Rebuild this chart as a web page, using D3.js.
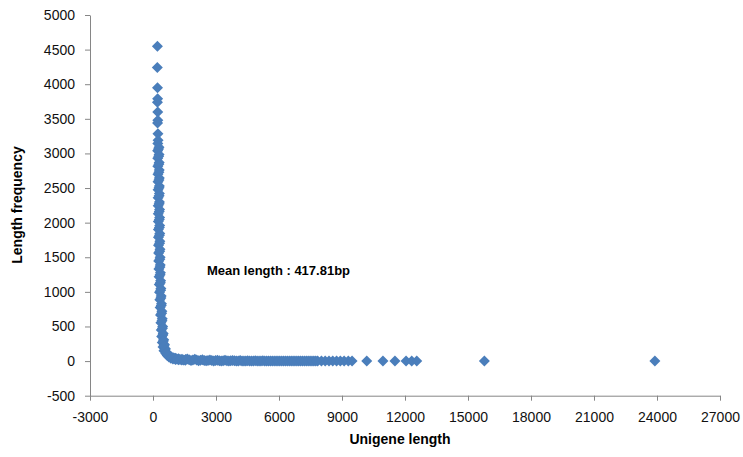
<!DOCTYPE html>
<html>
<head>
<meta charset="utf-8">
<script src="https://cdn.jsdelivr.net/npm/d3@7"></script>
<style>
  body { margin: 0; background: #fff; }
  text { font-family: "Liberation Sans", Arial, sans-serif; }
</style>
</head>
<body>
<svg></svg>
<script>
const width = 743;
const height = 457;

// unigene length (bp) and how many unigenes have that length
const unigeneLength = [
	210, 205, 215, 220, 212, 225, 230, 218, 235, 240, 228,
	285, 220, 290, 225, 295, 230, 298, 235, 300, 238, 303, 240, 305, 243, 308, 246,
	312, 250, 315, 252, 318, 255, 322, 258, 326, 262, 332, 268, 338, 272, 346, 280,
	354, 288, 364, 298, 376, 310, 390, 324, 406, 340, 422, 358, 440, 374, 460, 394,
	485, 415, 510, 440, 545, 475, 590, 520, 620, 610, 690, 680, 770, 760, 860, 850,
	960, 950, 1080, 1070, 1220, 1210, 1380, 1370, 1550, 1540,
	1720, 1900, 2080, 2260, 2440, 2620, 2800, 2980, 3160, 3340, 3520, 3700, 3880,
	4060, 4240, 4420, 4600, 4780, 4960, 5140, 5320, 5500, 5680, 5860, 6040, 6220,
	6400, 6580, 6760, 6940, 7120, 7300, 7480, 7660, 7840, 8020, 8200, 8380, 8560,
	8740, 8920, 9100, 9300, 9480,
	10180, 10950, 11520, 12050, 12320, 12560, 15780, 23900,
	262, 270, 276, 280, 284, 288, 291, 294, 298, 301, 304, 308, 312, 318, 324, 332,
	340, 350, 362, 376, 392, 410, 428, 450, 470, 495, 530, 575, 650, 720, 810, 900,
	1010, 1140, 1290, 1460,
	1630, 1810, 1990, 2170, 2350, 2530, 2710, 2890, 3070, 3250, 3430, 3610, 3790,
	3970, 4150, 4330, 4510, 4690, 4870, 5050, 5230, 5410, 5590, 5770, 5950, 6130,
	6310, 6490, 6670, 6850, 7030, 7210, 7390, 7570, 7750
];
const lengthFrequency = [
	4550, 4240, 3950, 3790, 3740, 3600, 3480, 3440, 3285, 3190, 3145,
	3090, 3040, 2985, 2930, 2870, 2815, 2760, 2700, 2645, 2590, 2530, 2475, 2420, 2360, 2300, 2245,
	2190, 2130, 2075, 2015, 1960, 1900, 1845, 1790, 1730, 1675, 1615, 1560, 1500, 1445, 1390, 1330,
	1275, 1220, 1160, 1105, 1050, 995, 940, 885, 830, 775, 720, 665, 610, 555, 500, 450,
	400, 355, 310, 270, 240, 205, 180, 150, 135, 110, 100, 80, 78, 58, 62, 42,
	50, 32, 42, 24, 34, 18, 28, 14, 24, 11,
	20, 17, 14, 12, 10, 9, 8, 7, 6, 5, 5, 4, 4,
	3, 3, 3, 2, 2, 2, 2, 2, 1, 1, 1, 1, 1,
	1, 1, 1, 1, 1, 1, 1, 1, 1, 1, 1, 1, 1,
	1, 1, 1, 1, 1,
	1, 1, 1, 1, 1, 1, 1, 1,
	3065, 2958, 2843, 2730, 2618, 2503, 2390, 2272, 2160, 2045, 1930, 1818, 1703, 1588, 1473, 1360,
	1248, 1133, 1022, 912, 802, 692, 582, 475, 378, 290, 222, 165, 122, 90, 68, 52,
	40, 30, 22, 17,
	30, 8, 26, 6, 20, 5, 16, 3, 13, 2, 11, 2, 9,
	1, 7, 1, 6, 1, 5, 1, 4, 1, 3, 1, 3, 1,
	2, 1, 2, 1, 2, 1, 1, 1, 1
];

const xTicks = [-3000, 0, 3000, 6000, 9000, 12000, 15000, 18000, 21000, 24000, 27000];
const yTicks = [-500, 0, 500, 1000, 1500, 2000, 2500, 3000, 3500, 4000, 4500, 5000];

const points = unigeneLength.map((len, i) => ({ len, freq: lengthFrequency[i] }));

const svg = d3.select('svg')
	.attr('width', width)
	.attr('height', height);

const x = d3.scaleLinear().domain([-3000, 27000]).range([90, 720]);
const y = d3.scaleLinear().domain([-500, 5000]).range([395.7, 15]);

const axisColor = '#868686';
const plain = d => String(d);

const yAxis = svg.append('g')
	.attr('transform', `translate(${x.range()[0]},0)`)
	.call(d3.axisLeft(y).tickValues(yTicks).tickFormat(plain)
		.tickSize(5).tickSizeOuter(0).tickPadding(10));

const xAxis = svg.append('g')
	.attr('transform', `translate(0,${y.range()[0]})`)
	.call(d3.axisBottom(x).tickValues(xTicks).tickFormat(plain)
		.tickSize(5).tickSizeOuter(0).tickPadding(11));

[xAxis, yAxis].forEach(g => {
	g.select('.domain').attr('stroke', axisColor);
	g.selectAll('.tick line').attr('stroke', axisColor);
	g.selectAll('.tick text')
		.attr('fill', '#111')
		.style('font-size', '14px')
		.style('font-family', '"Liberation Sans", Arial, sans-serif');
});

const diamond = 'M0,-5.5L5.5,0L0,5.5L-5.5,0Z';

svg.append('g')
	.selectAll('path')
	.data(points)
	.enter().append('path')
		.attr('d', diamond)
		.attr('transform', d => `translate(${x(d.len)},${y(d.freq)})`)
		.attr('fill', '#4a7ebb');

svg.append('text')
	.attr('x', 207)
	.attr('y', 275)
	.style('font-size', '13px')
	.style('font-weight', 'bold')
	.text('Mean length : 417.81bp');

svg.append('text')
	.attr('x', 400)
	.attr('y', 444)
	.attr('text-anchor', 'middle')
	.style('font-size', '14px')
	.style('font-weight', 'bold')
	.text('Unigene length');

svg.append('text')
	.attr('transform', 'translate(22,205) rotate(-90)')
	.attr('text-anchor', 'middle')
	.style('font-size', '14px')
	.style('font-weight', 'bold')
	.text('Length frequency');
</script>
</body>
</html>
